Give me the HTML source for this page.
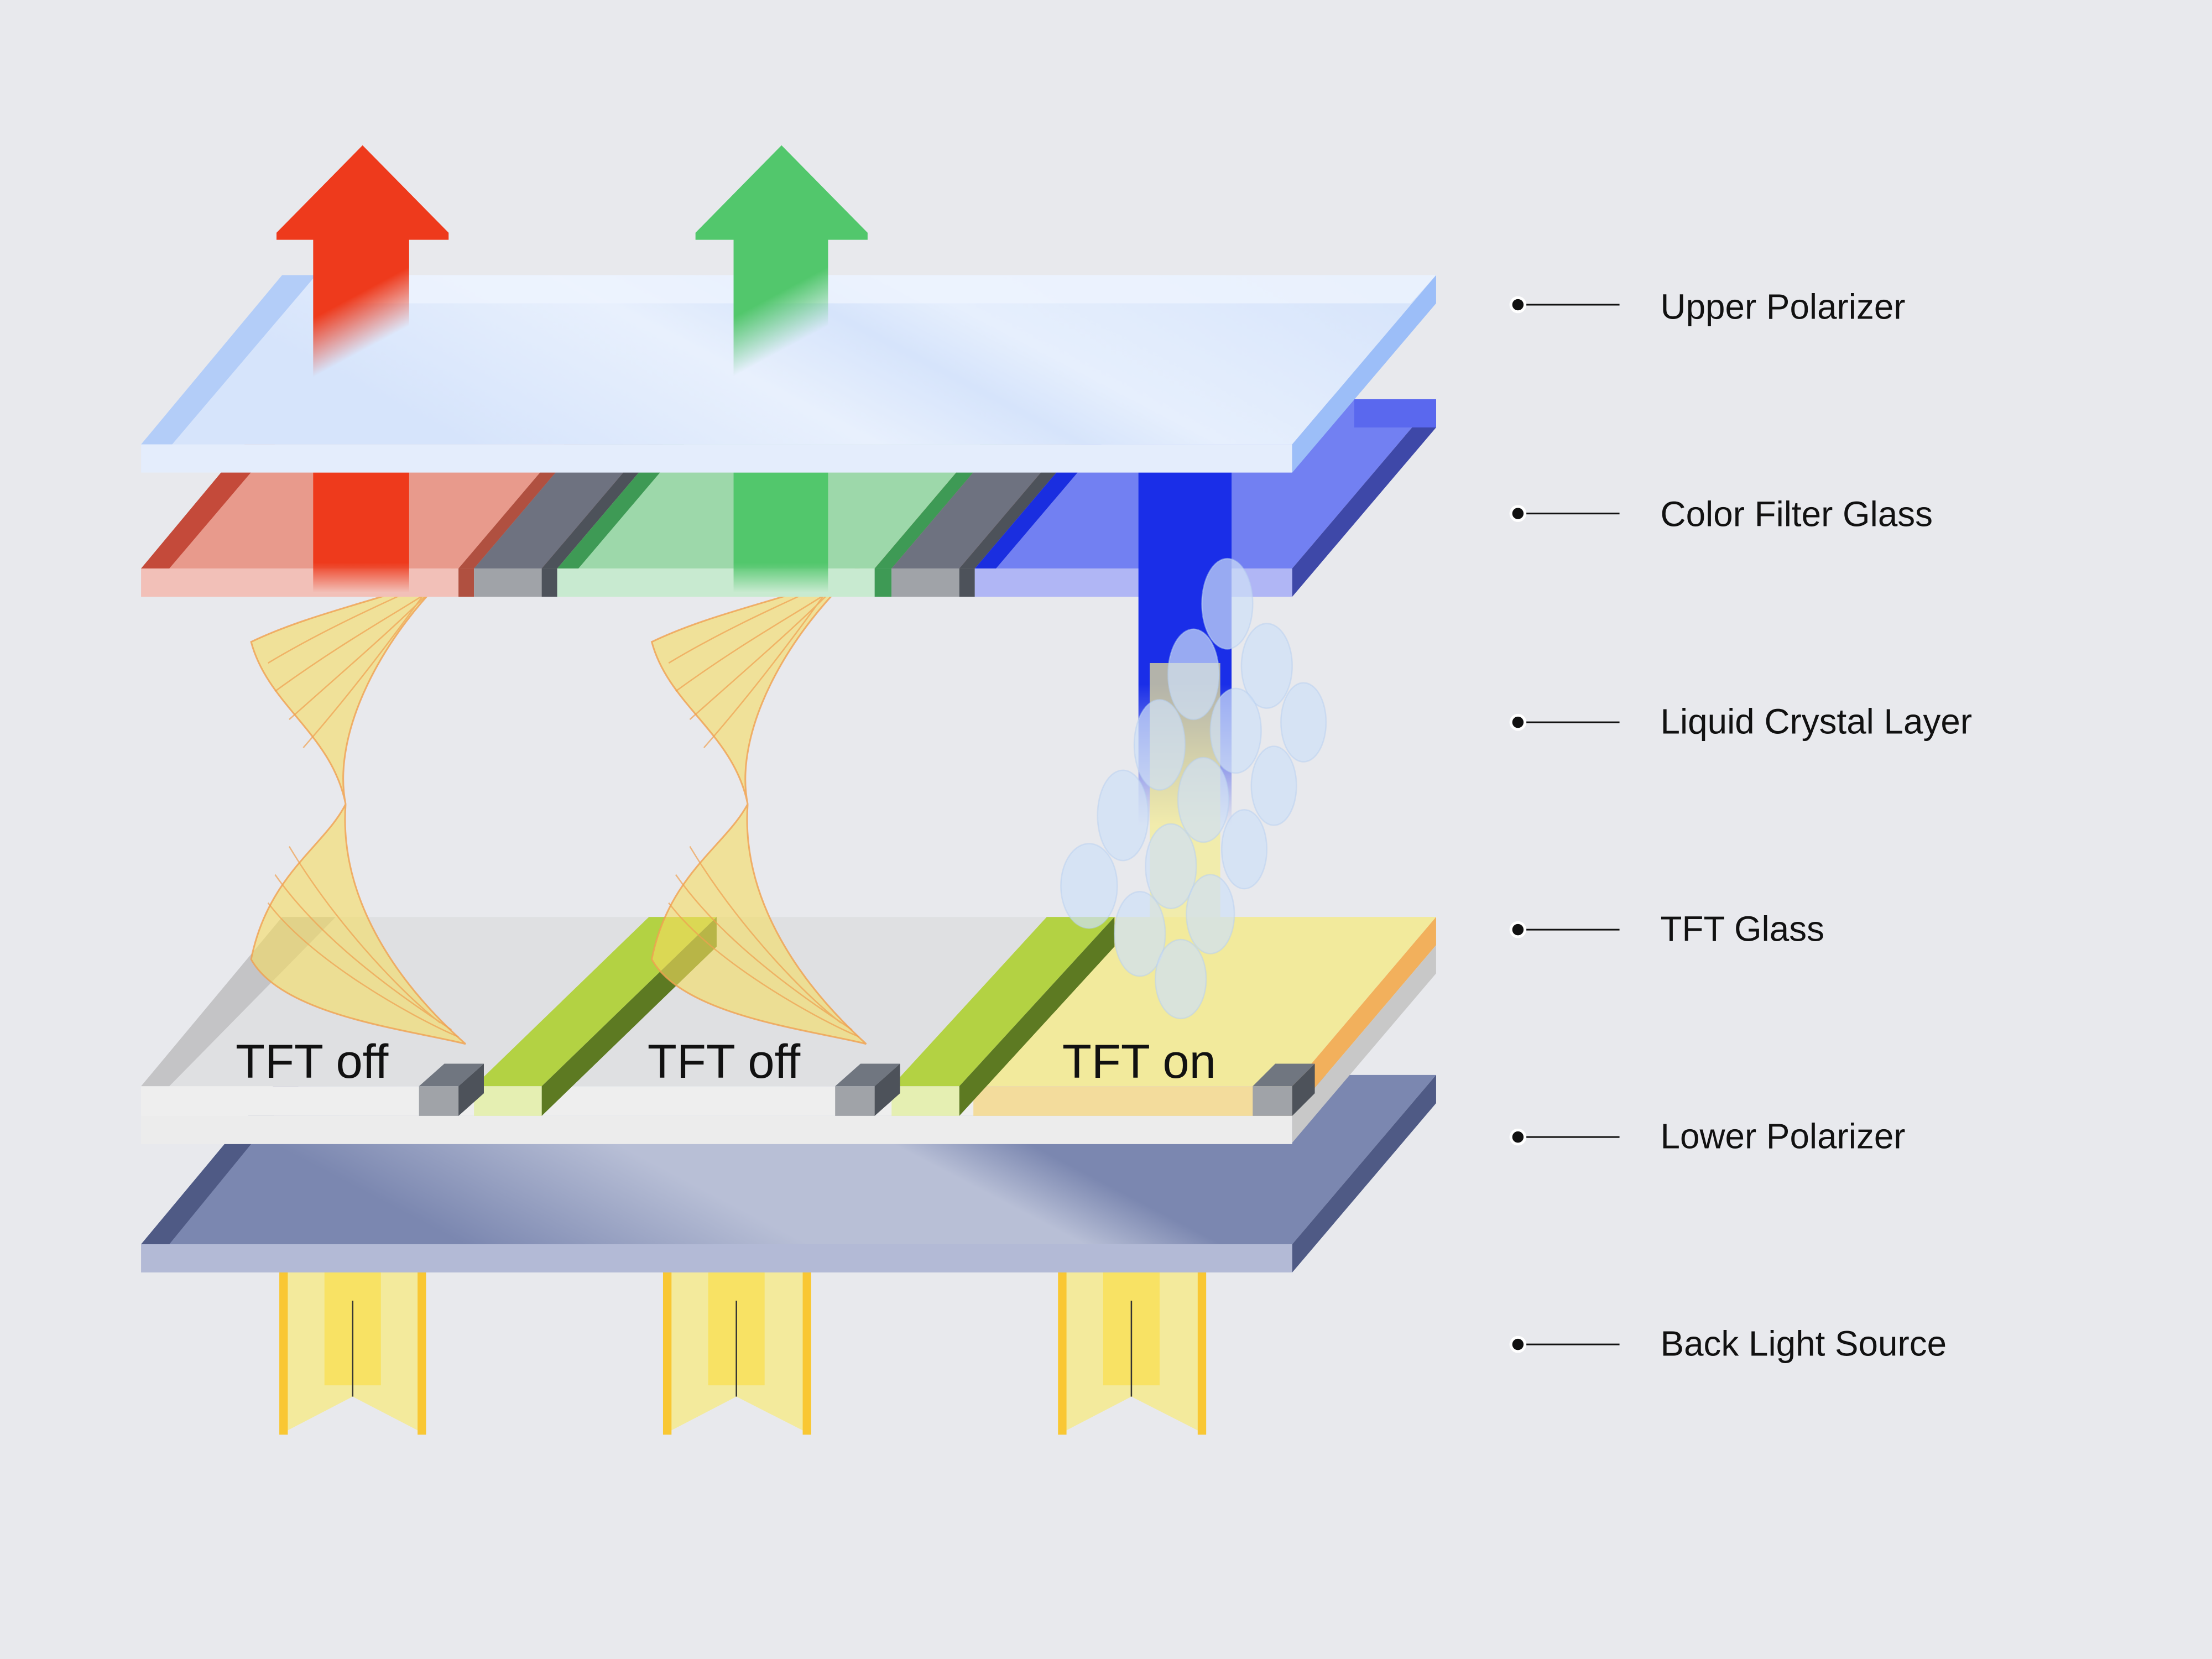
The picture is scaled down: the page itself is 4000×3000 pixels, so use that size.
<!DOCTYPE html>
<html><head><meta charset="utf-8"><style>
html,body{margin:0;padding:0;background:#e8e9ed;}
svg{display:block}
text{font-family:"Liberation Sans",sans-serif;}
</style></head><body>
<svg width="4000" height="3000" viewBox="0 0 1568 1176" xmlns="http://www.w3.org/2000/svg">
<defs>
<linearGradient id="red" x1="0" y1="0" x2="0" y2="1"><stop offset="0" stop-color="#ee3a1c"/><stop offset="0.75" stop-color="#ee3a1c"/><stop offset="1" stop-color="#ee3a1c" stop-opacity="0"/></linearGradient>
<linearGradient id="grn" x1="0" y1="0" x2="0" y2="1"><stop offset="0" stop-color="#52c76c"/><stop offset="0.75" stop-color="#52c76c"/><stop offset="1" stop-color="#52c76c" stop-opacity="0"/></linearGradient>
<linearGradient id="redT" x1="0" y1="0" x2="0.35" y2="1"><stop offset="0" stop-color="#ee3a1c"/><stop offset="0.65" stop-color="#ee3a1c"/><stop offset="0.85" stop-color="#ee3a1c" stop-opacity="0"/></linearGradient>
<linearGradient id="grnT" x1="0" y1="0" x2="0.35" y2="1"><stop offset="0" stop-color="#52c76c"/><stop offset="0.65" stop-color="#52c76c"/><stop offset="0.85" stop-color="#52c76c" stop-opacity="0"/></linearGradient>
<linearGradient id="blu" x1="0" y1="0" x2="0" y2="1"><stop offset="0" stop-color="#1a2ee8"/><stop offset="0.6" stop-color="#1a2ee8"/><stop offset="1" stop-color="#1a2ee8" stop-opacity="0"/></linearGradient>
<linearGradient id="pol" x1="0" y1="0" x2="1" y2="-0.25"><stop offset="0" stop-color="#7b87b0"/><stop offset="0.25" stop-color="#b8bfd6"/><stop offset="0.45" stop-color="#b8bfd6"/><stop offset="0.55" stop-color="#7b87b0"/><stop offset="1" stop-color="#7b87b0"/></linearGradient>
<linearGradient id="up" x1="0" y1="0" x2="1" y2="-0.25"><stop offset="0" stop-color="#d6e4fb"/><stop offset="0.3" stop-color="#e8f0fd"/><stop offset="0.45" stop-color="#d6e4fb"/><stop offset="0.55" stop-color="#e6effd"/><stop offset="1" stop-color="#d2e1fa"/></linearGradient>
</defs>
<rect width="1568" height="1176" fill="#e8e9ed"/>

<!-- back lights -->
<g>
<polygon points="198,902 302,902 302,1017 250,990 198,1017" fill="#f3ea9c"/>
<rect x="198" y="902" width="6" height="115" fill="#f9c733"/><rect x="296" y="902" width="6" height="115" fill="#f9c733"/>
<rect x="230" y="902" width="40" height="80" fill="#f8e264"/><line x1="250" y1="922" x2="250" y2="990" stroke="#333" stroke-width="1"/>
<polygon points="470,902 575,902 575,1017 522,990 470,1017" fill="#f3ea9c"/>
<rect x="470" y="902" width="6" height="115" fill="#f9c733"/><rect x="569" y="902" width="6" height="115" fill="#f9c733"/>
<rect x="502" y="902" width="40" height="80" fill="#f8e264"/><line x1="522" y1="922" x2="522" y2="990" stroke="#333" stroke-width="1"/>
<polygon points="750,902 855,902 855,1017 802,990 750,1017" fill="#f3ea9c"/>
<rect x="750" y="902" width="6" height="115" fill="#f9c733"/><rect x="849" y="902" width="6" height="115" fill="#f9c733"/>
<rect x="782" y="902" width="40" height="80" fill="#f8e264"/><line x1="802" y1="922" x2="802" y2="990" stroke="#333" stroke-width="1"/>
</g>

<!-- lower polarizer -->
<polygon points="100,882 200,762 1018,762 916,882" fill="url(#pol)"/>
<polygon points="100,882 120,882 218,762 200,762" fill="#4f5a85"/>
<rect x="100" y="882" width="816" height="20" fill="#b3bad6"/>
<polygon points="916,882 1018,762 1018,782 916,902" fill="#4f5a85"/>

<!-- TFT glass -->
<polygon points="100,770 200,650 1018,650 916,770" fill="#dfe0e2"/>
<polygon points="100,770 120,770 238,650 200,650" fill="#c4c4c6"/>
<polygon points="690,770 790,650 1018,650 916,770" fill="#f2ea9c"/>
<polygon points="916,770 1018,650 1018,670 916,790" fill="#f2b05c"/>
<rect x="100" y="770" width="816" height="21" fill="#eeeeee"/>
<rect x="100" y="791" width="816" height="20" fill="#ececec"/>
<polygon points="916,790 1018,670 1018,690 916,810" fill="#c8c8c8"/>
<rect x="690" y="770" width="226" height="21" fill="#f3dc9c"/>
<polygon points="336,770 384,770 508,650 460,650" fill="#b3d243"/>
<polygon points="384,770 384,791 508,671 508,650" fill="#5d7a22"/>
<rect x="336" y="770" width="48" height="21" fill="#e5efb2"/>
<polygon points="632,770 680,770 790,650 742,650" fill="#b3d243"/>
<polygon points="680,770 680,791 790,671 790,650" fill="#5d7a22"/>
<rect x="632" y="770" width="48" height="21" fill="#e5efb2"/>
<polygon points="297,770 325,770 343,754 315,754" fill="#707680"/><rect x="297" y="770" width="28" height="21" fill="#a0a3a8"/><polygon points="325,770 343,754 343,775 325,791" fill="#4d525a"/>
<polygon points="592,770 620,770 638,754 610,754" fill="#707680"/><rect x="592" y="770" width="28" height="21" fill="#a0a3a8"/><polygon points="620,770 638,754 638,775 620,791" fill="#4d525a"/>
<polygon points="888,770 916,770 932,754 904,754" fill="#707680"/><rect x="888" y="770" width="28" height="21" fill="#a0a3a8"/><polygon points="916,770 932,754 932,775 916,791" fill="#4d525a"/>
<text x="167" y="764" font-size="34" fill="#111">TFT off</text>
<text x="459" y="764" font-size="34" fill="#111">TFT off</text>
<text x="753" y="764" font-size="34" fill="#111">TFT on</text>

<!-- liquid crystal twists -->
<g fill="#f5dc60" fill-opacity="0.6" stroke="#f0a050" stroke-width="1.2" stroke-opacity="0.8">
<path d="M178,455 C230,430 300,420 325,400 C270,450 235,520 245,570 C235,520 190,500 178,455 Z"/>
<path d="M178,680 C190,620 230,600 245,570 C240,640 285,700 330,740 C290,730 200,720 178,680 Z"/>
<path d="M462,455 C514,430 584,420 612,400 C556,450 520,520 530,570 C520,520 474,500 462,455 Z"/>
<path d="M462,680 C474,620 514,600 530,570 C525,640 570,700 614,740 C574,730 484,720 462,680 Z"/>
</g>
<g fill="none" stroke="#f0a050" stroke-width="1" stroke-opacity="0.7">
<path d="M190,470 C240,440 290,420 320,405 M195,490 C250,450 290,430 318,410 M205,510 C250,470 285,440 312,412 M215,530 C250,490 280,450 305,415"/>
<path d="M190,640 C220,680 290,720 325,735 M195,620 C230,670 290,710 320,730 M205,600 C235,650 280,700 312,725"/>
<path d="M474,470 C524,440 574,420 604,405 M479,490 C534,450 574,430 602,410 M489,510 C534,470 569,440 596,412 M499,530 C534,490 564,450 589,415"/>
<path d="M474,640 C504,680 574,720 609,735 M479,620 C514,670 574,710 604,730 M489,600 C519,650 564,700 596,725"/>
</g>

<!-- color filter glass -->
<polygon points="100,403 200,283 1018,283 916,403" fill="#e89a8c"/>
<polygon points="100,403 120,403 222,283 200,283" fill="#c44a3a"/>
<polygon points="325,403 336,403 438,283 427,283" fill="#b05040"/>
<polygon points="336,403 384,403 486,283 438,283" fill="#6e7280"/>
<polygon points="384,403 395,403 497,283 486,283" fill="#4d525a"/>
<polygon points="395,403 620,403 722,283 497,283" fill="#9dd8aa"/>
<polygon points="395,403 410,403 512,283 497,283" fill="#3e9a55"/>
<polygon points="620,403 632,403 734,283 722,283" fill="#3e9a55"/>
<polygon points="632,403 680,403 782,283 734,283" fill="#6e7280"/>
<polygon points="680,403 691,403 793,283 782,283" fill="#4d525a"/>
<polygon points="691,403 916,403 1018,283 793,283" fill="#7280f2"/>
<polygon points="691,403 706,403 808,283 793,283" fill="#1a2ee0"/>
<rect x="100" y="403" width="225" height="20" fill="#f2c0b8"/>
<rect x="325" y="403" width="11" height="20" fill="#b05040"/>
<rect x="336" y="403" width="48" height="20" fill="#a0a3a8"/>
<rect x="384" y="403" width="11" height="20" fill="#4d525a"/>
<rect x="395" y="403" width="225" height="20" fill="#c8ead0"/>
<rect x="620" y="403" width="12" height="20" fill="#3e9a55"/>
<rect x="632" y="403" width="48" height="20" fill="#a0a3a8"/>
<rect x="680" y="403" width="11" height="20" fill="#4d525a"/>
<rect x="691" y="403" width="225" height="20" fill="#b0b6f5"/>
<polygon points="916,403 1018,283 1018,303 916,423" fill="#3e48a8"/>
<rect x="960" y="283" width="58" height="20" fill="#5a68ee"/>

<!-- blue beam and bubbles -->
<rect x="807" y="335" width="66" height="250" fill="url(#blu)"/>
<rect x="815" y="470" width="50" height="180" fill="#f5ec90" opacity="0.7"/>
<g fill="#cfe0f6" fill-opacity="0.7" stroke="#b8d0f0" stroke-opacity="0.5">
<ellipse cx="870" cy="428" rx="18" ry="32"/>
<ellipse cx="898" cy="472" rx="18" ry="30"/>
<ellipse cx="924" cy="512" rx="16" ry="28"/>
<ellipse cx="846" cy="478" rx="18" ry="32"/>
<ellipse cx="876" cy="518" rx="18" ry="30"/>
<ellipse cx="822" cy="528" rx="18" ry="32"/>
<ellipse cx="903" cy="557" rx="16" ry="28"/>
<ellipse cx="853" cy="567" rx="18" ry="30"/>
<ellipse cx="796" cy="578" rx="18" ry="32"/>
<ellipse cx="882" cy="602" rx="16" ry="28"/>
<ellipse cx="830" cy="614" rx="18" ry="30"/>
<ellipse cx="772" cy="628" rx="20" ry="30"/>
<ellipse cx="858" cy="648" rx="17" ry="28"/>
<ellipse cx="808" cy="662" rx="18" ry="30"/>
<ellipse cx="837" cy="694" rx="18" ry="28"/>
</g>

<rect x="222" y="335" width="68" height="85" fill="url(#red)"/>
<rect x="520" y="335" width="67" height="85" fill="url(#grn)"/>

<!-- upper polarizer -->
<polygon points="100,315 200,195 1018,195 916,315" fill="url(#up)"/>
<polygon points="100,315 122,315 224,195 200,195" fill="#b3cdf8"/>
<polygon points="224,215 1000,215 1018,195 240,195" fill="#eef4fe" opacity="0.8"/>
<rect x="100" y="315" width="816" height="20" fill="#e4edfc"/>
<polygon points="916,315 1018,195 1018,215 916,335" fill="#9cbef8"/>

<!-- arrows on top -->
<path d="M257,103 L318,165 L318,170 L290,170 L290,290 L222,290 L222,170 L196,170 L196,165 Z" fill="url(#redT)"/>
<path d="M554,103 L615,165 L615,170 L587,170 L587,290 L520,290 L520,170 L493,170 L493,165 Z" fill="url(#grnT)"/>

<!-- labels -->
<g stroke="#111" stroke-width="1.2">
<line x1="1076" y1="216" x2="1148" y2="216"/><line x1="1076" y1="364" x2="1148" y2="364"/>
<line x1="1076" y1="512" x2="1148" y2="512"/><line x1="1076" y1="659" x2="1148" y2="659"/>
<line x1="1076" y1="806" x2="1148" y2="806"/><line x1="1076" y1="953" x2="1148" y2="953"/>
</g>
<g fill="#111" stroke="#fff" stroke-width="2">
<circle cx="1076" cy="216" r="5"/><circle cx="1076" cy="364" r="5"/><circle cx="1076" cy="512" r="5"/>
<circle cx="1076" cy="659" r="5"/><circle cx="1076" cy="806" r="5"/><circle cx="1076" cy="953" r="5"/>
</g>
<g font-size="25" fill="#111">
<text x="1177" y="226">Upper Polarizer</text>
<text x="1177" y="373">Color Filter Glass</text>
<text x="1177" y="520">Liquid Crystal Layer</text>
<text x="1177" y="667">TFT Glass</text>
<text x="1177" y="814">Lower Polarizer</text>
<text x="1177" y="961">Back Light Source</text>
</g>
</svg>
</body></html>
